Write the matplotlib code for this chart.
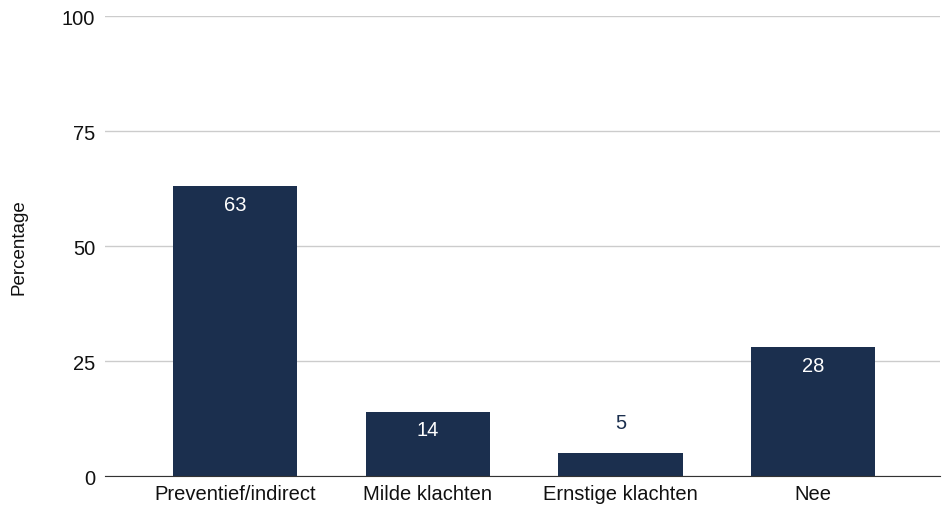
import matplotlib
matplotlib.use("Agg")
import matplotlib.pyplot as plt

# data
categories = ["Preventief/indirect", "Milde klachten", "Ernstige klachten", "Nee"]
values = [63, 14, 5, 28]
y_ticks = [0, 25, 50, 75, 100]

NAVY = "#1b2f4e"
plt.rcParams["font.family"] = ["Liberation Sans", "DejaVu Sans"]

fig = plt.figure(figsize=(9.46, 5.06), dpi=100)
ax = fig.add_axes([0.111, 0.057, 0.883, 0.909])

x = range(len(categories))
bars = ax.bar(x, values, width=0.645, color=NAVY, zorder=3)

# labels: inside the bar when there is room, above otherwise
for b, v in zip(bars, values):
    cx = b.get_x() + b.get_width() / 2
    if v >= 10:
        ax.annotate(str(v), (cx, v), xytext=(0, -13), textcoords="offset points",
                    ha="center", va="center", color="white", fontsize=14.5, zorder=4)
    else:
        ax.annotate(str(v), (cx, v), xytext=(0, 22), textcoords="offset points",
                    ha="center", va="center", color=NAVY, fontsize=14.5, zorder=4)

ax.set_xlim(-0.675, 3.66)
ax.set_ylim(0, 100)
ax.set_yticks(y_ticks)
ax.set_xticks(list(x))
ax.set_xticklabels(categories)
ax.tick_params(axis="both", length=0, labelsize=14.5, colors="#111111")
ax.tick_params(axis="y", pad=7)
ax.tick_params(axis="x", pad=6)
ax.grid(axis="y", color="#cccccc", linewidth=1, zorder=0)
for s in ["top", "right", "left"]:
    ax.spines[s].set_visible(False)
ax.spines["bottom"].set_color("#333333")
ax.spines["bottom"].set_zorder(5)
ax.set_ylabel("Percentage", fontsize=13.5, color="#111111", labelpad=25)

fig.savefig("out.png", dpi=100)
